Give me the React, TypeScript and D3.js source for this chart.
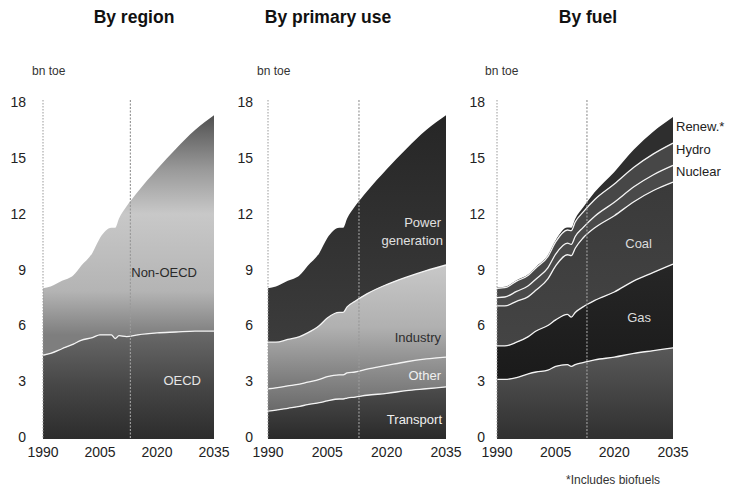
import React from 'react';
import * as d3 from 'd3';

// ---------- data (bn toe) ----------
const years = [1990, 1992, 1995, 1998, 2000, 2003, 2005, 2008, 2009, 2010, 2012, 2015, 2020, 2025, 2030, 2035];

// By region
const oecd = [4.5, 4.6, 4.85, 5.1, 5.3, 5.45, 5.6, 5.6, 5.4, 5.55, 5.5, 5.6, 5.7, 5.75, 5.8, 5.8];
const nonOecd = [3.6, 3.6, 3.65, 3.7, 4.0, 4.55, 5.2, 5.75, 5.95, 6.3, 7.0, 7.7, 8.8, 9.85, 10.8, 11.6];

// By primary use
const transport = [1.5, 1.55, 1.65, 1.75, 1.85, 1.95, 2.05, 2.15, 2.15, 2.2, 2.25, 2.35, 2.45, 2.6, 2.7, 2.8];
const otherUse = [1.2, 1.2, 1.2, 1.2, 1.2, 1.25, 1.3, 1.3, 1.3, 1.35, 1.35, 1.4, 1.5, 1.55, 1.6, 1.6];
const industry = [2.5, 2.45, 2.5, 2.55, 2.65, 2.9, 3.15, 3.35, 3.35, 3.55, 3.8, 4.05, 4.35, 4.55, 4.75, 4.95];
const power = [2.9, 3.0, 3.15, 3.3, 3.6, 3.9, 4.3, 4.55, 4.55, 4.75, 5.1, 5.5, 6.2, 6.9, 7.55, 8.05];

// By fuel
const oil = [3.2, 3.2, 3.3, 3.5, 3.6, 3.7, 3.9, 4.0, 3.9, 4.0, 4.1, 4.25, 4.4, 4.6, 4.75, 4.9];
const gas = [1.8, 1.8, 1.9, 2.0, 2.2, 2.4, 2.5, 2.7, 2.65, 2.8, 3.0, 3.2, 3.5, 3.9, 4.2, 4.5];
const coal = [2.15, 2.15, 2.2, 2.15, 2.2, 2.5, 2.9, 3.2, 3.3, 3.45, 3.7, 3.9, 4.1, 4.25, 4.4, 4.4];
const nuclear = [0.45, 0.48, 0.53, 0.58, 0.6, 0.6, 0.63, 0.62, 0.61, 0.63, 0.56, 0.62, 0.72, 0.8, 0.85, 0.9];
const hydro = [0.5, 0.5, 0.55, 0.57, 0.6, 0.6, 0.66, 0.71, 0.74, 0.78, 0.83, 0.9, 0.98, 1.05, 1.12, 1.2];
const renew = [0.05, 0.05, 0.05, 0.05, 0.06, 0.07, 0.09, 0.13, 0.15, 0.18, 0.25, 0.4, 0.65, 0.95, 1.2, 1.4];

const xTicks = [1990, 2005, 2020, 2035];
const yTicks = [0, 3, 6, 9, 12, 15, 18];
const baseYear = 2013;
const unitLabel = 'bn toe';

type Series = { key: string; values: number[]; fill: string };

const FONT = "'Liberation Sans', Arial, Helvetica, sans-serif";

const y = d3.scaleLinear().domain([0, 18]).range([439, 104]);

interface PanelProps {
  id: string;
  title: string;
  titleX: number;
  x0: number;
  x1: number;
  tickLabelX: number;
  unitX: number;
  series: Series[];
  labels: { text: string; x: number; y: number; color: string; anchor?: string }[];
  gradients: React.ReactNode;
}

function Panel(p: PanelProps) {
  const x = d3.scaleLinear().domain([1990, 2035]).range([p.x0, p.x1]);
  const rows = years.map((yr, i) => {
    const r: any = { year: yr };
    p.series.forEach((s) => (r[s.key] = s.values[i]));
    return r;
  });
  const stacked = d3.stack<any>().keys(p.series.map((s) => s.key))(rows);
  const area = d3
    .area<any>()
    .x((d) => x(d.data.year))
    .y0((d) => y(d[0]))
    .y1((d) => y(d[1]))
    .curve(d3.curveMonotoneX);
  const line = d3
    .line<any>()
    .x((d) => x(d.data.year))
    .y((d) => y(d[1]))
    .curve(d3.curveMonotoneX);
  return (
    <g>
      <defs>{p.gradients}</defs>
      <text x={p.titleX} y={23} textAnchor="middle" fontFamily={FONT} fontWeight="bold" fontSize={17.5} fill="#111">
        {p.title}
      </text>
      <text x={p.unitX} y={75} fontFamily={FONT} fontSize={12} fill="#333">
        {unitLabel}
      </text>
      {stacked.map((layer, i) => (
        <path key={layer.key} d={area(layer) || ''} fill={p.series[i].fill} />
      ))}
      {stacked.slice(0, -1).map((layer) => (
        <path key={'l' + layer.key} d={line(layer) || ''} fill="none" stroke="#f4f4f4" strokeWidth={1.3} />
      ))}
      <line x1={p.x0} x2={p.x0} y1={y(18) - 4} y2={y(0)} stroke="#999" strokeWidth={1} strokeDasharray="1.5,1.5" />
      <line x1={x(baseYear)} x2={x(baseYear)} y1={y(18) - 4} y2={y(0)} stroke="#9a9a9a" strokeWidth={1.2} strokeDasharray="2,1.5" />
      {yTicks.map((t) => (
        <text key={t} x={p.tickLabelX} y={y(t) + 3} textAnchor="end" fontFamily={FONT} fontSize={14} fill="#222">
          {t}
        </text>
      ))}
      {xTicks.map((t) => (
        <text key={t} x={x(t)} y={457} textAnchor="middle" fontFamily={FONT} fontSize={14} fill="#222">
          {t}
        </text>
      ))}
      {p.labels.map((l, i) => (
        <text key={i} x={l.x} y={l.y} textAnchor={l.anchor || 'end'} fontFamily={FONT} fontSize={13} fill={l.color}>
          {l.text}
        </text>
      ))}
    </g>
  );
}

const vGrad = (id: string, stops: [number, string][], y1: number, y2: number) => (
  <linearGradient id={id} key={id} gradientUnits="userSpaceOnUse" x1={0} x2={0} y1={y1} y2={y2}>
    {stops.map(([o, c], i) => (
      <stop key={i} offset={o} stopColor={c} />
    ))}
  </linearGradient>
);

export default function App() {
  return (
    <svg width={739} height={491} style={{ position: 'absolute', left: 0, top: 0, background: '#fff' }}>
      <rect x={0} y={0} width={739} height={491} fill="#fff" />
      <Panel
        id="p1"
        title="By region"
        titleX={134}
        x0={43}
        x1={214}
        tickLabelX={26}
        unitX={32}
        gradients={[
          vGrad('gOecd', [[0, '#6a6a6a'], [0.5, '#474747'], [1, '#2c2c2c']], 330, 439),
          vGrad('gNon', [[0, '#505050'], [0.25, '#9a9a9a'], [0.45, '#c8c8c8'], [0.8, '#b4b4b4'], [1, '#7e7e7e']], 115, 335),
        ]}
        series={[
          { key: 'OECD', values: oecd, fill: 'url(#gOecd)' },
          { key: 'Non-OECD', values: nonOecd, fill: 'url(#gNon)' },
        ]}
        labels={[
          { text: 'Non-OECD', x: 197, y: 277, color: '#2a2a2a' },
          { text: 'OECD', x: 201, y: 385, color: '#e6e6e6' },
        ]}
      />
      <Panel
        id="p2"
        title="By primary use"
        titleX={328}
        x0={268}
        x1={446}
        tickLabelX={253}
        unitX={257}
        gradients={[
          vGrad('gTrans', [[0, '#4e4e4e'], [1, '#2a2a2a']], 385, 439),
          vGrad('gOther', [[0, '#9a9a9a'], [1, '#6a6a6a']], 355, 410),
          vGrad('gInd', [[0, '#c8c8c8'], [0.5, '#b0b0b0'], [1, '#747474']], 265, 390),
          vGrad('gPow', [[0, '#262626'], [1, '#3c3c3c']], 115, 345),
        ]}
        series={[
          { key: 'Transport', values: transport, fill: 'url(#gTrans)' },
          { key: 'Other', values: otherUse, fill: 'url(#gOther)' },
          { key: 'Industry', values: industry, fill: 'url(#gInd)' },
          { key: 'Power generation', values: power, fill: 'url(#gPow)' },
        ]}
        labels={[
          { text: 'Power', x: 441, y: 227, color: '#e0e0e0' },
          { text: 'generation', x: 443, y: 245, color: '#e0e0e0' },
          { text: 'Industry', x: 441, y: 342, color: '#2e2e2e' },
          { text: 'Other', x: 441, y: 380, color: '#f0f0f0' },
          { text: 'Transport', x: 442, y: 424, color: '#f0f0f0' },
        ]}
      />
      <Panel
        id="p3"
        title="By fuel"
        titleX={588}
        x0={497}
        x1={673}
        tickLabelX={485}
        unitX={485}
        gradients={[
          vGrad('gOil', [[0, '#5a5a5a'], [1, '#303030']], 345, 439),
          vGrad('gGas', [[0, '#262626'], [1, '#1a1a1a']], 265, 380),
          vGrad('gCoal', [[0, '#3a3a3a'], [1, '#444444']], 180, 345),
        ]}
        series={[
          { key: 'Oil', values: oil, fill: 'url(#gOil)' },
          { key: 'Gas', values: gas, fill: 'url(#gGas)' },
          { key: 'Coal', values: coal, fill: 'url(#gCoal)' },
          { key: 'Nuclear', values: nuclear, fill: '#4a4a4a' },
          { key: 'Hydro', values: hydro, fill: '#474747' },
          { key: 'Renew.*', values: renew, fill: '#2e2e2e' },
        ]}
        labels={[
          { text: 'Coal', x: 652, y: 248, color: '#dcdcdc' },
          { text: 'Gas', x: 651, y: 322, color: '#dcdcdc' },
          { text: 'Renew.*', x: 676, y: 131, color: '#222', anchor: 'start' },
          { text: 'Hydro', x: 676, y: 154, color: '#222', anchor: 'start' },
          { text: 'Nuclear', x: 676, y: 176, color: '#222', anchor: 'start' },
        ]}
      />
      <text x={566} y={484} fontFamily={FONT} fontSize={12} fill="#333">
        *Includes biofuels
      </text>
    </svg>
  );
}
